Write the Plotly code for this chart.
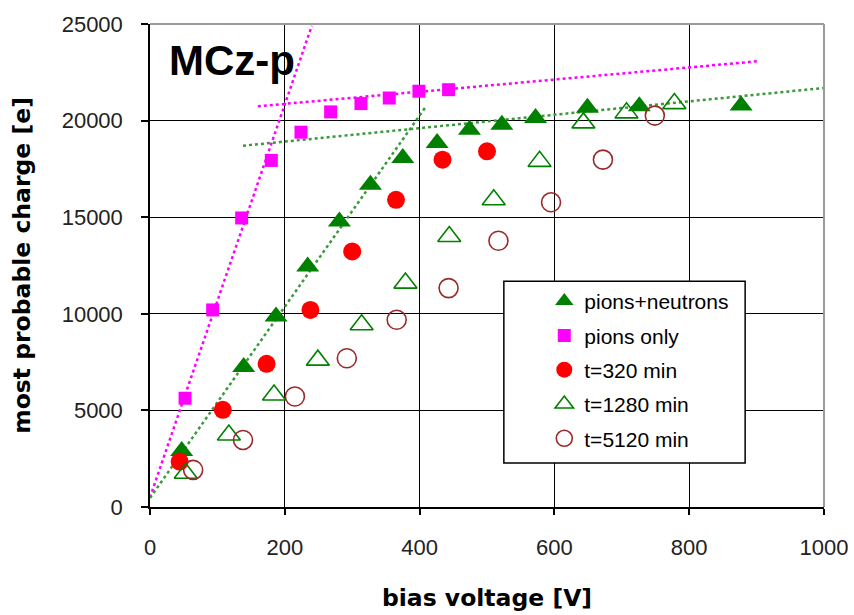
import plotly.graph_objects as go

# ---- measured data: most probable charge vs bias voltage ----
pn_v = [47, 139, 187, 234, 281, 327, 375, 426, 474, 522, 572, 649, 726, 877]
pn_q = [2900, 7250, 9860, 12450, 14780, 16680, 18070, 18840, 19530, 19790, 20140, 20660, 20740, 20780]

po_v = [52, 93, 136, 180, 224, 268, 313, 355, 399, 443]
po_q = [5630, 10200, 14960, 17940, 19400, 20450, 20880, 21170, 21520, 21600]

t320_v = [44, 108, 173, 238, 300, 365, 434, 500]
t320_q = [2350, 5030, 7410, 10200, 13230, 15900, 17980, 18410]

t1280_v = [53, 117, 184, 249, 314, 379, 444, 510, 578, 643, 707, 778]
t1280_q = [1750, 3730, 5800, 7600, 9430, 11590, 14000, 15900, 17890, 19880, 20400, 20880]

t5120_v = [64, 138, 215, 292, 366, 443, 517, 595, 672, 749]
t5120_q = [1920, 3470, 5720, 7700, 9690, 11330, 13780, 15770, 17980, 20260]

# linear trend lines (end points)
po_rise_v, po_rise_q = [0, 240], [500, 24900]
po_flat_v, po_flat_q = [160, 901], [20740, 23070]
pn_rise_v, pn_rise_q = [0, 409], [470, 20710]
pn_flat_v, pn_flat_q = [138, 1000], [18700, 21690]

x_ticks = [0, 200, 400, 600, 800, 1000]
y_ticks = [0, 5000, 10000, 15000, 20000, 25000]

GREEN = "#008000"
MAGENTA = "#FF00FF"
RED = "#FF0000"
BROWN = "#9A2A2A"
TREND_GREEN = "#3A9A3A"

fig = go.Figure()

# trend lines
for xs, ys, col in [(po_rise_v, po_rise_q, MAGENTA), (po_flat_v, po_flat_q, MAGENTA),
                    (pn_rise_v, pn_rise_q, TREND_GREEN), (pn_flat_v, pn_flat_q, TREND_GREEN)]:
    fig.add_trace(go.Scatter(x=xs, y=ys, mode="lines", showlegend=False, hoverinfo="skip",
                             line=dict(color=col, width=2.5, dash="dot")))

fig.add_trace(go.Scatter(x=pn_v, y=pn_q, mode="markers", name="pions+neutrons", legendgroup="a",
                         marker=dict(symbol="triangle-up", size=20, color=GREEN)))
fig.add_trace(go.Scatter(x=po_v, y=po_q, mode="markers", name="pions only", legendgroup="b",
                         marker=dict(symbol="square", size=13, color=MAGENTA)))
fig.add_trace(go.Scatter(x=t320_v, y=t320_q, mode="markers", name="t=320 min", legendgroup="c",
                         marker=dict(symbol="circle", size=18, color=RED)))
fig.add_trace(go.Scatter(x=t1280_v, y=t1280_q, mode="markers", name="t=1280 min", legendgroup="d",
                         marker=dict(symbol="triangle-up-open", size=20, color=GREEN,
                                     line=dict(color=GREEN, width=1.6))))
fig.add_trace(go.Scatter(x=t5120_v, y=t5120_q, mode="markers", name="t=5120 min", legendgroup="e",
                         marker=dict(symbol="circle-open", size=19, color=BROWN,
                                     line=dict(color=BROWN, width=1.6))))

axis_common = dict(showgrid=True, gridcolor="black", gridwidth=1, zeroline=False,
                   showline=True, linecolor="black", linewidth=1.5, automargin=False,
                   ticks="outside", tickcolor="black", tickwidth=1.5,
                   tickfont=dict(family="Liberation Sans, Arial", size=22, color="#222222"))

fig.update_layout(
    width=854, height=615,
    margin=dict(l=150, r=30, t=24, b=108),
    plot_bgcolor="white", paper_bgcolor="white",
    xaxis=dict(range=[0, 1000], tickvals=x_ticks, ticktext=[str(v) for v in x_ticks],
               ticklen=6, ticklabelstandoff=14, **axis_common,
               title=dict(text="bias voltage [V]", standoff=30,
                          font=dict(family="DejaVu Sans", size=23.5, color="black", weight="bold"))),
    yaxis=dict(range=[0, 25000], tickvals=y_ticks, ticktext=[str(v) for v in y_ticks],
               ticklen=7, ticklabelstandoff=14, **axis_common,
               title=dict(text="most probable charge [e]", standoff=24,
                          font=dict(family="DejaVu Sans", size=23.5, color="black", weight="bold"))),
    legend=dict(x=0.585, y=0.468, xanchor="left", yanchor="top",
                bgcolor="rgba(0,0,0,0)", borderwidth=0, tracegroupgap=4,
                font=dict(family="Liberation Sans, Arial", size=21, color="black")),
    showlegend=True,
)

# legend frame, plot-area border on the top and right
fig.add_shape(type="rect", xref="x", yref="y", x0=525, x1=883, y0=2275, y1=11690,
              fillcolor="white", line=dict(color="black", width=1.5), layer="between")
fig.add_shape(type="line", xref="paper", yref="paper", x0=0, x1=1, y0=1, y1=1,
              line=dict(color="#9a9a9a", width=2), layer="above")
fig.add_shape(type="line", xref="paper", yref="paper", x0=1, x1=1, y0=0, y1=1,
              line=dict(color="#9a9a9a", width=2), layer="above")

fig.add_annotation(text="<b>MCz-p</b>", xref="x", yref="y", x=25, y=23100,
                   xanchor="left", yanchor="middle", showarrow=False,
                   font=dict(family="Liberation Sans, Arial", size=42, color="black"))

fig.write_html("out.html")
